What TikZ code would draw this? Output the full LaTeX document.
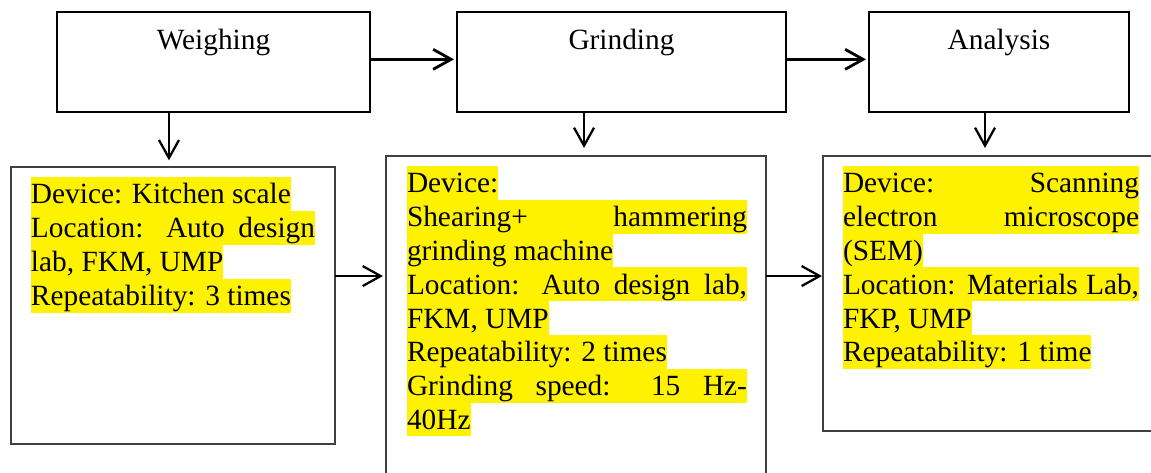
\documentclass[tikz,border=0pt]{standalone}
\usepackage{fontspec}
\setmainfont{Liberation Serif}
\usetikzlibrary{arrows.meta,calc}
\begin{document}
\begin{tikzpicture}[x=0.75pt,y=-0.75pt,
  font=\fontsize{22}{25.35}\selectfont,
  topbox/.style={draw=black,line width=0.9pt,inner sep=0,outer sep=0,minimum height=75pt},
  detbox/.style={draw=black!75,line width=0.8pt,inner sep=0,outer sep=0},
  hl/.style={fill=yellow,inner sep=0,outer sep=0,anchor=north west,text height=20.1pt,text depth=5.25pt},
  ttl/.style={anchor=base,inner sep=0},
  arr/.style={line width=1.7pt,-{Straight Barb[length=13.5pt,width=15pt]}},
  tarr/.style={arr,line width=2.1pt}]
\useasboundingbox (0,0) rectangle (1151,472);
\clip (0,0) rectangle (1151,472);
\fill[white] (0,0) rectangle (1151,472);

% top boxes
\node[topbox,minimum width=234.75pt] (wbox) at (213.5,62) {};
\node[topbox,minimum width=246.75pt] (gbox) at (621.5,62) {};
\node[topbox,minimum width=195pt] (abox) at (999,62) {};
\node[ttl] (wt) at (213.5,49) {Weighing};
\node[ttl] (gt) at (621.5,49) {Grinding};
\node[ttl] (at) at (999,49) {Analysis};

% detail boxes
\node[detbox,minimum width=243pt,minimum height=207.75pt] (wdet) at (173,305.5) {};
\node[detbox,minimum width=285pt,minimum height=250.5pt] (gdet) at (576,323) {};
\node[detbox,minimum width=260.25pt,minimum height=206.25pt] (adet) at (996.5,293.5) {};

% left text
\node[hl] (l1) at (31,177) {Device: Kitchen scale};
\node[hl] (l2) at (31,211) {\makebox[213pt][s]{Location: Auto design}};
\node[hl] (l3) at (31,245) {lab, FKM, UMP};
\node[hl] (l4) at (31,279) {Repeatability: 3 times};

% middle text
\node[hl] (m1) at (407,166) {Device:};
\node[hl] (m2) at (407,199.8) {\makebox[255pt][s]{Shearing+ hammering}};
\node[hl] (m3) at (407,233.6) {grinding machine};
\node[hl] (m4) at (407,267.4) {\makebox[255pt][s]{Location: Auto design lab,}};
\node[hl] (m5) at (407,301.2) {FKM, UMP};
\node[hl] (m6) at (407,335) {Repeatability: 2 times};
\node[hl] (m7) at (407,368.8) {\makebox[255pt][s]{Grinding speed: 15 Hz-}};
\node[hl] (m8) at (407,402.6) {40Hz};

% right text
\node[hl] (r1) at (843,166) {\makebox[222pt][s]{Device: Scanning}};
\node[hl] (r2) at (843,199.8) {\makebox[222pt][s]{electron microscope}};
\node[hl] (r3) at (843,233.6) {(SEM)};
\node[hl] (r4) at (843,267.4) {\makebox[222pt][s]{Location: Materials Lab,}};
\node[hl] (r5) at (843,301.2) {FKP, UMP};
\node[hl] (r6) at (843,335) {Repeatability: 1 time};

% top horizontal arrows
\draw[tarr,shorten >=2.25pt] ([yshift=2pt]wbox.east) -- ([yshift=2pt]gbox.west);
\draw[tarr,shorten >=2.25pt] ([yshift=2pt]gbox.east) -- ([yshift=2pt]abox.west);

% vertical arrows
\draw[arr,shorten >=5pt] ([xshift=-33.4pt]wbox.south) -- ([xshift=-33.4pt]wbox.south |- wdet.north);
\draw[arr,shorten >=6pt] ([xshift=-28.1pt]gbox.south) -- ([xshift=-28.1pt]gbox.south |- gdet.north);
\draw[arr,shorten >=6pt] ([xshift=-10.5pt]abox.south) -- ([xshift=-10.5pt]abox.south |- adet.north);

% lower horizontal arrows
\coordinate (mid) at ([yshift=22.1pt]wdet.east);
\draw[arr,shorten >=2.25pt] (mid) -- (mid -| gdet.west);
\draw[arr,shorten >=0.75pt] (mid -| gdet.east) -- (mid -| adet.west);
\end{tikzpicture}
\end{document}
